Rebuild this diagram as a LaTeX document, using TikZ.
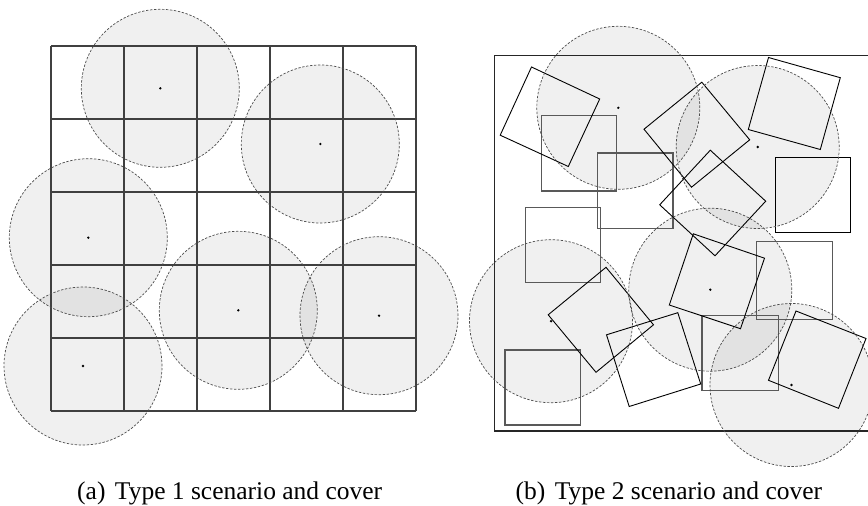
\documentclass[tikz,border=0pt]{standalone}
\usepackage{fontspec}
\setmainfont{Liberation Serif}
\usetikzlibrary{positioning}

\begin{document}
\begin{tikzpicture}[
  x=1pt, y=-1pt,
  cover/.style={fill=black, fill opacity=0.06, draw=none},
  rim/.style={draw=black!70, line width=0.7pt, dash pattern=on 2.4pt off 1.6pt},
  cell/.style={draw=black!75, line width=1.2pt},
  tile/.style={draw=black!65, line width=1.1pt},
  tilt/.style={draw=black, line width=0.9pt},
  caption/.style={font=\fontsize{25.5}{30}\selectfont, anchor=base west, inner sep=0pt},
]
\useasboundingbox (0,0) rectangle (868,506);

% (a) grid scenario
\foreach \cx/\cy in {160.3/88.3, 320.3/144, 88.3/237.7, 83/366, 238.3/310.3, 379/315.7}
  \path[cover] (\cx,\cy) circle[radius=79pt];
\foreach \k in {0,...,5} {
  \draw[cell] (51+73*\k,46) -- (51+73*\k,411);
  \draw[cell] (51,46+73*\k) -- (416,46+73*\k);
}
\foreach \cx/\cy in {160.3/88.3, 320.3/144, 88.3/237.7, 83/366, 238.3/310.3, 379/315.7} {
  \draw[rim] (\cx,\cy) circle[radius=79pt];
  \fill (\cx,\cy) circle[radius=1.3pt];
}

% (b) random scenario
\foreach \cx/\cy in {618.3/107.8, 757.7/147, 710.3/289.7, 551/321.2, 791.5/385}
  \path[cover] (\cx,\cy) circle[radius=81.5pt];
\draw[draw=black!85, line width=1.1pt] (494.3,55.7) rectangle (870,431);
\foreach \ax/\ay/\bx/\by in {541.3/115.7/616.3/191, 597.5/153/673/228.3,
    525.5/207.5/600.3/282.7, 756.7/241.5/832.3/319.8, 702/315.7/778.3/390.5,
    505/350/580.2/425}
  \draw[tile] (\ax,\ay) rectangle (\bx,\by);
\draw[tilt] (775.3,157.3) rectangle (850.5,232.3);
\draw[tilt] (531.5,67) -- (599.7,99) -- (568.3,166.5) -- (500.2,135.2) -- cycle;
\draw[tilt] (701.8,82.2) -- (749.7,139.8) -- (691.5,187.2) -- (644,129.2) -- cycle;
\draw[tilt] (768.5,57.5) -- (840.3,77.7) -- (820.3,149.5) -- (748.3,129.5) -- cycle;
\draw[tilt] (710.3,150.2) -- (765.7,201.2) -- (715,255.8) -- (659.7,204.8) -- cycle;
\draw[tilt] (693.3,233.8) -- (764.5,258.2) -- (740.5,328.7) -- (669.3,305) -- cycle;
\draw[tilt] (606,267.3) -- (653.5,324.8) -- (596,372.3) -- (548.2,314.8) -- cycle;
\draw[tilt] (677.8,312.7) -- (700.7,384) -- (629.2,406.5) -- (606.5,334.8) -- cycle;
\draw[tilt] (796,311) -- (866,338.5) -- (838.5,408.3) -- (768.5,380.3) -- cycle;
\foreach \cx/\cy in {618.3/107.8, 757.7/147, 710.3/289.7, 551/321.2, 791.5/385} {
  \draw[rim] (\cx,\cy) circle[radius=81.5pt];
  \fill (\cx,\cy) circle[radius=1.3pt];
}

\node[caption] (capa) at (77,499) {(a)\hspace{0.12em} Type 1 scenario and cover};
\node[caption] (capb) at (515.5,499) {(b)\hspace{0.12em} Type 2 scenario and cover};
\end{tikzpicture}
\end{document}
